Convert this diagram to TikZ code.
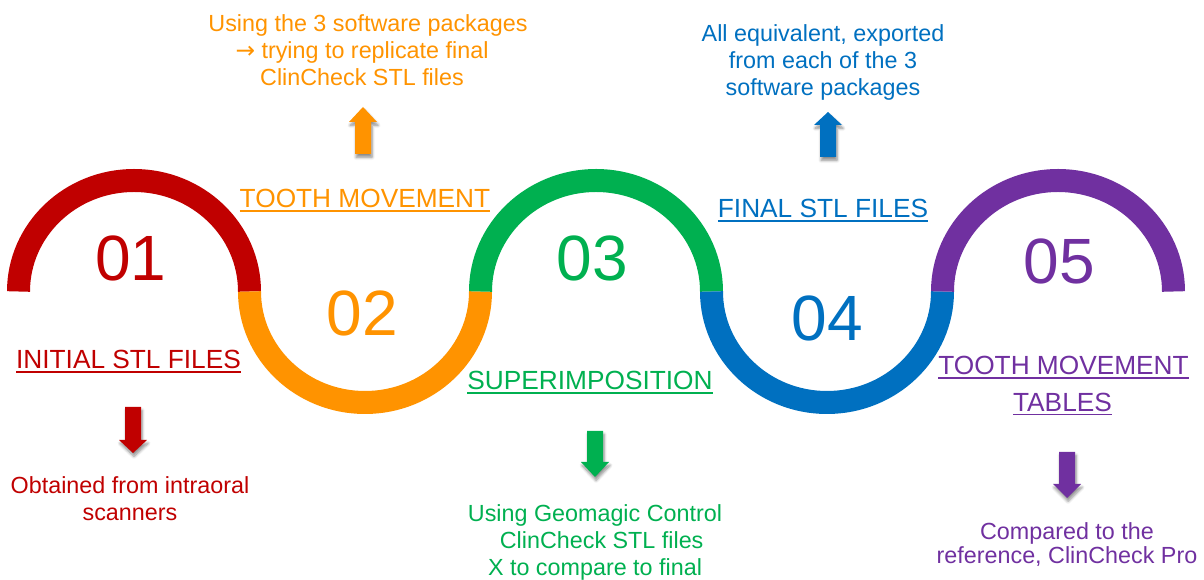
\documentclass[tikz,border=0pt]{standalone}
\usepackage{fontspec}
\setmainfont{Liberation Sans}
\newfontfamily\symfont{DejaVu Sans}
\usetikzlibrary{shadows.blur}

\definecolor{stepred}{RGB}{192,0,0}
\definecolor{steporange}{RGB}{255,147,0}
\definecolor{stepgreen}{RGB}{0,176,80}
\definecolor{stepblue}{RGB}{0,112,192}
\definecolor{steppurple}{RGB}{112,48,160}

% underlined step title
\newcommand{\ulabel}[1]{\setbox0\hbox{#1}\rlap{\rule[-2.8pt]{\wd0}{1.1pt}}\box0}

\tikzset{every picture/.style={line width=0.75pt}}
\tikzset{
  band/.style={line width=17.25pt},
  num/.style={font=\fontsize{48}{48}\selectfont, inner sep=0pt},
  steplabel/.style={font=\fontsize{19.7}{27.5}\selectfont, inner sep=0pt, anchor=base},
  note/.style={font=\fontsize{17.5}{20.25}\selectfont, align=center, inner sep=0pt},
  blockarrow/.style={fill=#1, draw=none, blur shadow={shadow xshift=0.8pt, shadow yshift=-2.5pt, shadow blur steps=6, shadow opacity=45}},
}

\begin{document}
\begin{tikzpicture}[x=0.75pt,y=0.75pt,yscale=-1,xscale=1]
\useasboundingbox (0,0) rectangle (1204,580);

%Shape: Arc 01
\draw [band, stepred] (18.5,291.5) arc [start angle=180, end angle=360, x radius=115.5, y radius=111];
%Shape: Arc 02
\draw [band, steporange] (249.5,291.5) arc [start angle=180, end angle=0, x radius=115.5, y radius=111];
%Shape: Arc 03
\draw [band, stepgreen] (480.5,291.5) arc [start angle=180, end angle=360, x radius=115.5, y radius=111];
%Shape: Arc 04
\draw [band, stepblue] (711.5,291.5) arc [start angle=180, end angle=0, x radius=115.5, y radius=111];
%Shape: Arc 05
\draw [band, steppurple] (942.5,291.5) arc [start angle=180, end angle=360, x radius=115.5, y radius=111];

% Step numbers
\node (n01) at (131,258) [num, text=stepred] {01};
\node (n02) at (362.5,313) [num, text=steporange] {02};
\node (n03) at (592.5,258) [num, text=stepgreen] {03};
\node (n04) at (827.5,318) [num, text=stepblue] {04};
\node (n05) at (1059.5,261.5) [num, text=steppurple] {05};

% Step titles
\node (t01) at (128.5,369) [steplabel, text=stepred] {\ulabel{INITIAL STL FILES}};
\node (t02) at (365,208) [steplabel, text=steporange] {\ulabel{TOOTH MOVEMENT}};
\node (t03) at (590,390) [steplabel, text=stepgreen] {\ulabel{SUPERIMPOSITION}};
\node (t04) at (823,218) [steplabel, text=stepblue] {\ulabel{FINAL STL FILES}};
\node (t05) at (1063.5,375) [steplabel, text=steppurple] {\ulabel{TOOTH MOVEMENT}};
\node (t05b) at (1062.5,411.5) [steplabel, text=steppurple] {\ulabel{TABLES}};

%Block Arrows
\draw [blockarrow=stepred] (125,407) -- (141,407) -- (141,440) -- (147,440) -- (133,453) -- (119,440) -- (125,440) -- cycle;
\draw [blockarrow=steporange] (355,154) -- (355,122) -- (349,122) -- (363,107) -- (377,122) -- (371,122) -- (371,154) -- cycle;
\draw [blockarrow=stepgreen] (587,431) -- (603,431) -- (603,462) -- (609,462) -- (595,477) -- (581,462) -- (587,462) -- cycle;
\draw [blockarrow=stepblue] (820,157) -- (820,125) -- (814,125) -- (828,112) -- (842,125) -- (836,125) -- (836,157) -- cycle;
\draw [blockarrow=steppurple] (1059,452) -- (1075,452) -- (1075,484) -- (1081,484) -- (1067,498) -- (1053,484) -- (1059,484) -- cycle;

% Text Node
\node (d01) at (130,498.5) [note, text=stepred] {Obtained from intraoral\\scanners};
% Text Node
\node (d02) at (362,50) [note, text=steporange] {\hspace*{9pt}Using the 3 software packages\\{\symfont →} trying to replicate final\\ClinCheck STL files};
% Text Node
\node (d03) at (595,542) [note, text=stepgreen] {Using Geomagic Control\\\hspace*{10pt}ClinCheck STL files\\X to compare to final};
% Text Node
\node (d04) at (823,62.5) [note, text=stepblue] {All equivalent, exported\\from each of the 3\\software packages};
% Text Node
\node (d05) at (1067,545) [note, text=steppurple, font=\fontsize{17.5}{18}\selectfont] {Compared to the\\reference, ClinCheck Pro};

\end{tikzpicture}
\end{document}
